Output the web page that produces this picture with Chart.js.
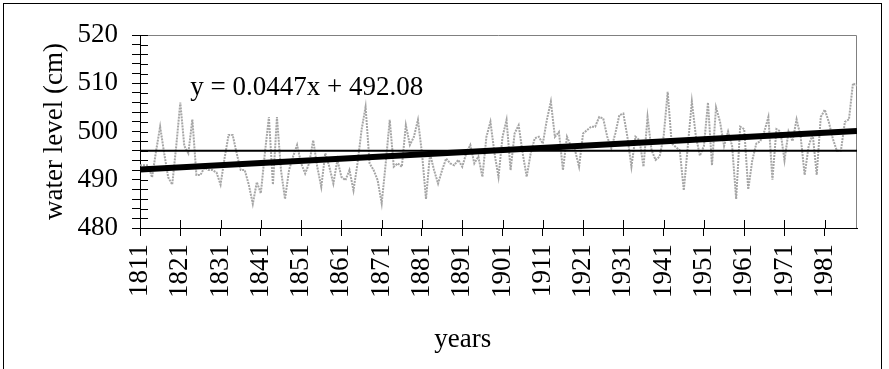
<!DOCTYPE html>
<html>
<head>
<meta charset="utf-8">
<title>Water level</title>
<script src="https://cdn.jsdelivr.net/npm/chart.js@4.4.1/dist/chart.umd.min.js"></script>
<style>
  html, body { margin: 0; padding: 0; background: #fff; overflow: hidden; }
  #wrap { position: relative; width: 889px; height: 369px; }
  #chart { position: absolute; left: 0; top: 0; }
  /* outer chart frame, bottom edge falls outside the picture */
  #frame {
    position: absolute; left: 3px; top: 3px; width: 879px; height: 420px;
    border: 1px solid #000; box-sizing: border-box; pointer-events: none;
  }
</style>
</head>
<body>
<div id="wrap">
  <canvas id="chart" width="889" height="369"></canvas>
  <div id="frame"></div>
</div>
<script>
/** Annual water level 1811–1989 with mean line and linear trend */

const FIRST_YEAR = 1811;

// one value per year (cm)
const LEVELS = [
  493, 493, 493, 490.5, 496, 501, 495.5, 490.5, 489, 497,
  506, 497, 495.5, 502.5, 491, 491, 492.5, 492, 492, 491.5,
  489, 494.5, 499.3, 499.3, 495.5, 492, 492, 489, 485, 489.5,
  487.2, 495.5, 503, 489, 503, 492, 486, 492, 494.8, 497.2,
  493.4, 491.3, 493.4, 498.2, 492.7, 488.5, 495.5, 492.7, 489.2, 494.1,
  490.6, 489.9, 492, 487.8, 493.4, 500.3, 505.1, 493.4, 492, 489.9,
  485.1, 493.4, 502.4, 492.7, 493.4, 492.7, 501.3, 497.2, 498.9, 502.4,
  495.5, 486, 495.4, 492, 489.2, 492, 494.4, 493.4, 493, 494.1,
  492.7, 495.5, 497.2, 493.4, 494.8, 490.6, 498.9, 502, 495.5, 490.6,
  498.9, 502.4, 492, 499.6, 501.3, 495.5, 490.6, 495.5, 498.6, 498.9,
  497.5, 502.4, 506.2, 498.9, 499.9, 492, 498.9, 497, 496.1, 492.7,
  499.6, 500.3, 501, 501, 503, 502.7, 498.9, 496.5, 499.6, 503.4,
  503.7, 498.9, 492.7, 498.9, 498.2, 492.7, 503, 496.1, 494.1, 494.8,
  499, 508.2, 497.5, 496.8, 496.1, 487.8, 497, 506.2, 499, 495,
  497, 506, 493, 505, 502, 497, 500, 497, 486, 501,
  500.5, 488, 494, 497.5, 498, 500, 503, 490, 500.5, 500,
  494, 500, 498, 502.5, 499, 491, 497, 499.5, 491, 503,
  504.5, 502, 498.5, 496, 496, 502, 502.5, 510, 509.5,
];

const YEARS = LEVELS.map((_, i) => FIRST_YEAR + i);

const YEAR_TICKS = [
  1811, 1821, 1831, 1841, 1851, 1861, 1871, 1881, 1891,
  1901, 1911, 1921, 1931, 1941, 1951, 1961, 1971, 1981,
];

const LEVEL_MIN = 480;
const LEVEL_MAX = 520;
const LEVEL_STEP = 2;      // minor tick marks
const LEVEL_LABEL_STEP = 10;

const MEAN_LEVEL = 496;

// trendline as printed on the chart, x = 1..n
const TREND_SLOPE = 0.0447;
const TREND_INTERCEPT = 492.08;
const TREND_LABEL = "y = 0.0447x + 492.08";
const TREND_LABEL_AT = { year: 1823.5, level: 509 };

const X_TITLE = "years";
const Y_TITLE = "water level (cm)";

const FONT = { family: "'Liberation Serif', 'Times New Roman', serif", size: 27 };
const FONT_CSS = `${FONT.size}px ${FONT.family}`;

function lastYear() {
  return YEARS[YEARS.length - 1];
}

function levelPoints() {
  return YEARS.map((yr, i) => ({ x: yr, y: LEVELS[i] }));
}

function trendPoints() {
  return [0, YEARS.length - 1].map((i) => ({
    x: YEARS[i],
    y: TREND_SLOPE * (i + 1) + TREND_INTERCEPT,
  }));
}

function meanPoints() {
  return [{ x: FIRST_YEAR, y: MEAN_LEVEL }, { x: lastYear(), y: MEAN_LEVEL }];
}

// Excel-style extras: gray frame, ticks crossing the axes, equation + x title
const excelBits = {
  id: "excelBits",
  beforeDatasetsDraw(chart) {
    const { ctx, chartArea: a, scales: { x, y } } = chart;
    ctx.save();
    ctx.strokeStyle = "#808080";
    ctx.lineWidth = 1;
    ctx.beginPath();
    ctx.moveTo(a.left, a.top + 0.5);
    ctx.lineTo(a.right - 0.5, a.top + 0.5);
    ctx.lineTo(a.right - 0.5, a.bottom);
    ctx.stroke();

    ctx.strokeStyle = "#000";
    ctx.beginPath();
    y.ticks.forEach((t) => {
      const py = Math.round(y.getPixelForValue(t.value)) + 0.5;
      ctx.moveTo(a.left, py);
      ctx.lineTo(a.left + 8, py);
    });
    x.ticks.forEach((t) => {
      const px = Math.round(x.getPixelForValue(t.value)) + 0.5;
      ctx.moveTo(px, a.bottom);
      ctx.lineTo(px, a.bottom - 8);
    });
    ctx.stroke();
    ctx.restore();
  },
  afterDraw(chart) {
    const { ctx, chartArea: a, scales: { x, y } } = chart;
    ctx.save();
    ctx.font = FONT_CSS;
    ctx.fillStyle = "#000";
    ctx.textBaseline = "middle";
    ctx.textAlign = "left";
    ctx.fillText(
      TREND_LABEL,
      x.getPixelForValue(TREND_LABEL_AT.year),
      y.getPixelForValue(TREND_LABEL_AT.level)
    );
    ctx.textAlign = "center";
    ctx.fillText(X_TITLE, a.left + a.width * 0.45, a.bottom + 112);
    ctx.restore();
  },
};

function buildChart() {
  const canvas = document.getElementById("chart");

  return new Chart(canvas, {
    type: "line",
    data: {
      datasets: [
        {
          label: "trend",
          data: trendPoints(),
          borderColor: "#000",
          borderWidth: 6,
          pointRadius: 0,
          order: 0,
        },
        {
          label: "mean",
          data: meanPoints(),
          borderColor: "#000",
          borderWidth: 2,
          pointRadius: 0,
          order: 1,
        },
        {
          label: "water level",
          data: levelPoints(),
          borderColor: "#a6a6a6",
          borderWidth: 2,
          borderDash: [2, 1],
          pointRadius: 0,
          tension: 0,
          order: 2,
        },
      ],
    },
    options: {
      responsive: false,
      animation: false,
      events: [],
      layout: { padding: { top: 35, right: 32, left: 0, bottom: 0 } },
      plugins: {
        legend: { display: false },
        tooltip: { enabled: false },
        title: { display: false },
      },
      scales: {
        x: {
          type: "linear",
          min: FIRST_YEAR,
          max: lastYear(),
          afterBuildTicks(scale) {
            scale.ticks = YEAR_TICKS.map((v) => ({ value: v }));
          },
          afterFit(scale) {
            scale.height = 141;
          },
          ticks: {
            autoSkip: false,
            minRotation: 90,
            maxRotation: 90,
            padding: 8,
            color: "#000",
            font: FONT,
            callback: (v) => String(v),
          },
          grid: { drawOnChartArea: false, tickLength: 8, color: "#000", lineWidth: 1 },
          border: { color: "#000", width: 1 },
        },
        y: {
          min: LEVEL_MIN,
          max: LEVEL_MAX,
          afterFit(scale) {
            scale.width = 140;
          },
          ticks: {
            stepSize: LEVEL_STEP,
            autoSkip: false,
            padding: 14,
            color: "#000",
            font: FONT,
            callback: (v) => (v % LEVEL_LABEL_STEP === 0 ? String(v) : ""),
          },
          grid: { drawOnChartArea: false, tickLength: 8, color: "#000", lineWidth: 1 },
          border: { color: "#000", width: 1 },
          title: {
            display: true,
            text: Y_TITLE,
            color: "#000",
            font: FONT,
            padding: { top: 39, bottom: 0 },
          },
        },
      },
    },
    plugins: [excelBits],
  });
}

buildChart();
</script>
</body>
</html>
